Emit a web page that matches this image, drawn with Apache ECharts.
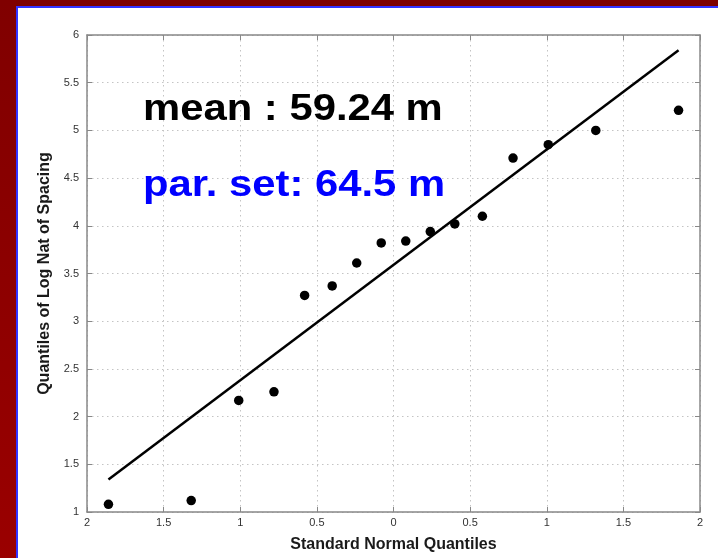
<!DOCTYPE html>
<html>
<head>
<meta charset="utf-8">
<script src="https://cdn.jsdelivr.net/npm/echarts@6/dist/echarts.min.js"></script>
<style>
html,body{margin:0;padding:0;background:#800000;}
#chart{width:718px;height:558px;}
</style>
</head>
<body>
<div id="chart"></div>
<script>
// Standard normal quantiles (x) and quantiles of log nat of spacing (y)
const normalQuantiles = [-1.86, -1.32, -1.01, -0.78, -0.58, -0.40, -0.24, -0.08, 0.08, 0.24, 0.40, 0.58, 0.78, 1.01, 1.32, 1.86];
const logSpacingQuantiles = [1.08, 1.12, 2.17, 2.26, 3.27, 3.37, 3.61, 3.82, 3.84, 3.94, 4.02, 4.10, 4.71, 4.85, 5.00, 5.21];
// Reference line endpoints
const refLineX = [-1.86, 1.86];
const refLineY = [1.34, 5.84];
// Tick labels as printed
const xTickLabels = ['2', '1.5', '1', '0.5', '0', '0.5', '1', '1.5', '2'];
const yTickLabels = ['1', '1.5', '2', '2.5', '3', '3.5', '4', '4.5', '5', '5.5', '6'];
const annotations = ['mean : 59.24 m', 'par. set: 64.5 m'];
const xAxisName = 'Standard Normal Quantiles';
const yAxisName = 'Quantiles of Log Nat of Spacing';

const chart = echarts.init(document.getElementById('chart'), null, {renderer: 'canvas'});

const fontFam = "'Liberation Sans', Arial, Helvetica, sans-serif";
const boxColor = '#888888';
const gridLine = {show: true, lineStyle: {type: [1.5, 3.5], color: '#c4c4c4', width: 1}};

const scatterData = normalQuantiles.map((x, i) => [x, logSpacingQuantiles[i]]);
const lineData = refLineX.map((x, i) => [x, refLineY[i]]);

const xFmt = v => xTickLabels[Math.round((v + 2) / 0.5)] ?? '';
const yFmt = v => yTickLabels[Math.round((v - 1) / 0.5)] ?? '';

chart.setOption({
  animation: false,
  backgroundColor: 'transparent',
  graphic: [
    {type: 'rect', z: -100, shape: {x: 0, y: 0, width: 718, height: 558}, style: {fill: '#7d0000'}},
    {type: 'rect', z: -99, shape: {x: 0, y: 0, width: 16, height: 558},
      style: {fill: new echarts.graphic.LinearGradient(0, 0, 0, 1, [{offset: 0, color: '#800000'}, {offset: 1, color: '#9a0000'}])}},
    {type: 'rect', z: -98, shape: {x: 16, y: 6, width: 702, height: 2}, style: {fill: '#3333ff'}},
    {type: 'rect', z: -98, shape: {x: 16, y: 6, width: 2, height: 552}, style: {fill: '#3333ff'}},
    {type: 'rect', z: -97, shape: {x: 18, y: 8, width: 700, height: 550}, style: {fill: '#ffffff'}},
    {type: 'text', z: 100, x: 143, y: 110, scaleX: 1.13,
      style: {text: annotations[0], fill: '#000000', font: 'bold 37px ' + fontFam, textAlign: 'left', textVerticalAlign: 'middle'}},
    {type: 'text', z: 100, x: 143, y: 186, scaleX: 1.13,
      style: {text: annotations[1], fill: '#0000ff', font: 'bold 37px ' + fontFam, textAlign: 'left', textVerticalAlign: 'middle'}}
  ],
  grid: {left: 87, top: 35, right: 18, bottom: 42, containLabel: false},
  xAxis: [
    {
      type: 'value', min: -2, max: 2, interval: 0.5, position: 'bottom',
      name: xAxisName, nameLocation: 'middle', nameGap: 25,
      nameTextStyle: {fontFamily: fontFam, fontWeight: 'bold', fontSize: 16, color: '#1a1a1a'},
      axisLine: {show: true, onZero: false, lineStyle: {color: boxColor, width: 1.5}},
      axisTick: {show: true, inside: true, length: 5, lineStyle: {color: boxColor}},
      axisLabel: {formatter: xFmt, fontFamily: fontFam, fontSize: 11, color: '#333333', margin: 5, showMinLabel: true, showMaxLabel: true},
      splitLine: gridLine
    },
    {
      type: 'value', min: -2, max: 2, interval: 0.5, position: 'top',
      axisLine: {show: true, onZero: false, lineStyle: {color: boxColor, width: 1.5}},
      axisTick: {show: true, inside: true, length: 5, lineStyle: {color: boxColor}},
      axisLabel: {show: false}, splitLine: {show: false}
    }
  ],
  yAxis: [
    {
      type: 'value', min: 1, max: 6, interval: 0.5, position: 'left',
      name: yAxisName, nameLocation: 'middle', nameGap: 25, nameRotate: 90,
      nameTextStyle: {fontFamily: fontFam, fontWeight: 'bold', fontSize: 16, color: '#1a1a1a'},
      axisLine: {show: true, onZero: false, lineStyle: {color: boxColor, width: 1.5}},
      axisTick: {show: true, inside: true, length: 5, lineStyle: {color: boxColor}},
      axisLabel: {formatter: yFmt, fontFamily: fontFam, fontSize: 11, color: '#333333', margin: 8, showMinLabel: true, showMaxLabel: true},
      splitLine: gridLine
    },
    {
      type: 'value', min: 1, max: 6, interval: 0.5, position: 'right',
      axisLine: {show: true, onZero: false, lineStyle: {color: boxColor, width: 1.5}},
      axisTick: {show: true, inside: true, length: 5, lineStyle: {color: boxColor}},
      axisLabel: {show: false}, splitLine: {show: false}
    }
  ],
  series: [
    {
      type: 'line', data: lineData, xAxisIndex: 0, yAxisIndex: 0,
      symbol: 'none', lineStyle: {color: '#000000', width: 2.5}, z: 3
    },
    {
      type: 'scatter', data: scatterData, xAxisIndex: 0, yAxisIndex: 0,
      symbol: 'circle', symbolSize: 9.5, itemStyle: {color: '#000000', opacity: 1}, z: 4
    }
  ]
});
</script>
</body>
</html>
